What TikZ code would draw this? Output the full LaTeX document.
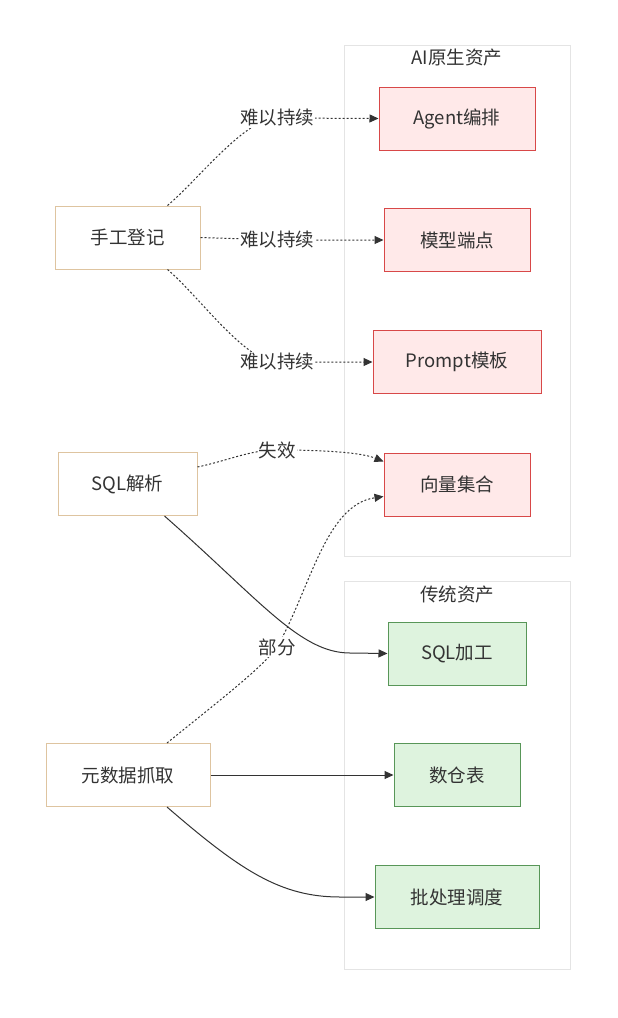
\documentclass[tikz,border=0pt]{standalone}
\usepackage{fontspec}
\setmainfont{Noto Sans CJK SC}
\usetikzlibrary{arrows.meta}
\definecolor{lc}{RGB}{51,51,51}
\definecolor{tc}{RGB}{51,51,51}
\definecolor{clb}{RGB}{228,228,228}
\definecolor{srcb}{RGB}{222,196,160}
\definecolor{aib}{RGB}{216,72,72}
\definecolor{aif}{RGB}{255,233,233}
\definecolor{trb}{RGB}{88,150,88}
\definecolor{trf}{RGB}{222,243,222}
\newcommand{\fs}{\fontsize{18.5pt}{21pt}\selectfont}
\begin{document}
\begin{tikzpicture}[x=1pt,y=-1pt,
  cluster/.style={draw=clb, fill=white, line width=0.8pt},
  box/.style={line width=1pt, minimum height=63pt, inner sep=0pt, font=\fs, text=tc},
  src/.style={box, draw=srcb, fill=white},
  ai/.style={box, draw=aib, fill=aif},
  tr/.style={box, draw=trb, fill=trf},
  dotl/.style={draw=lc, line width=1pt, dash pattern=on 2pt off 2pt, -{Triangle[length=9pt,width=8pt]}},
  sol/.style={draw=lc, line width=1pt, -{Triangle[length=9pt,width=8pt]}},
  lab/.style={fill=white, text=tc, inner sep=1pt, font=\fs},
  cl/.style={text=tc, font=\fs}]
\useasboundingbox (0,0) rectangle (618,1018);
\fill[white] (0,0) rectangle (618,1018);
% clusters
\draw[cluster] (344,45) rectangle (570,556);
\node[cl] (clai) at (457,58) {AI原生资产};
\draw[cluster] (344,581) rectangle (570,969);
\node[cl] (cltr) at (457,594) {传统资产};
% nodes
\node[ai, minimum width=156pt] (agent) at (457,118.5) {Agent编排};
\node[ai, minimum width=146pt] (model) at (457,240) {模型端点};
\node[ai, minimum width=168pt] (prompt) at (457,362) {Prompt模板};
\node[ai, minimum width=146pt] (vector) at (457,484.5) {向量集合};
\node[tr, minimum width=138pt] (sqlproc) at (457,653.5) {SQL加工};
\node[tr, minimum width=126pt] (dw) at (457,775) {数仓表};
\node[tr, minimum width=164pt] (batch) at (457,897) {批处理调度};
\node[src, minimum width=145pt] (hand) at (127.5,237.5) {手工登记};
\node[src, minimum width=139pt] (sqlparse) at (127.5,484) {SQL解析};
\node[src, minimum width=164pt] (meta) at (128,775) {元数据抓取};
% edges
\draw[dotl] ([xshift=40pt]hand.north) .. controls (198,180) and (245,118) .. (277,118) node[lab] {难以持续} -- (agent.west);
\draw[dotl] (hand.east) -- (277,240) node[lab] {难以持续} -- (model.west);
\draw[dotl] ([xshift=40pt]hand.south) .. controls (198,295) and (245,362) .. (277,362) node[lab] {难以持续} -- (prompt.west);
\draw[dotl] ([yshift=17pt]sqlparse.east) .. controls (230,460) and (250,450) .. (277,450) node[lab] {失效} .. controls (320,450) and (360,452) .. ([yshift=23pt]vector.west);
\draw[dotl] ([xshift=39pt]meta.north) .. controls (220,700) and (262,668) .. (277,647) node[lab] {部分} .. controls (310,590) and (325,505) .. ([yshift=-12pt]vector.west);
\draw[sol] ([xshift=37pt]sqlparse.south) .. controls (260,600) and (300,653) .. (350,653) -- (sqlproc.west);
\draw[sol] (meta.east) -- (dw.west);
\draw[sol] ([xshift=39pt]meta.south) .. controls (240,870) and (280,897) .. (340,897) -- (batch.west);
\end{tikzpicture}
\end{document}
